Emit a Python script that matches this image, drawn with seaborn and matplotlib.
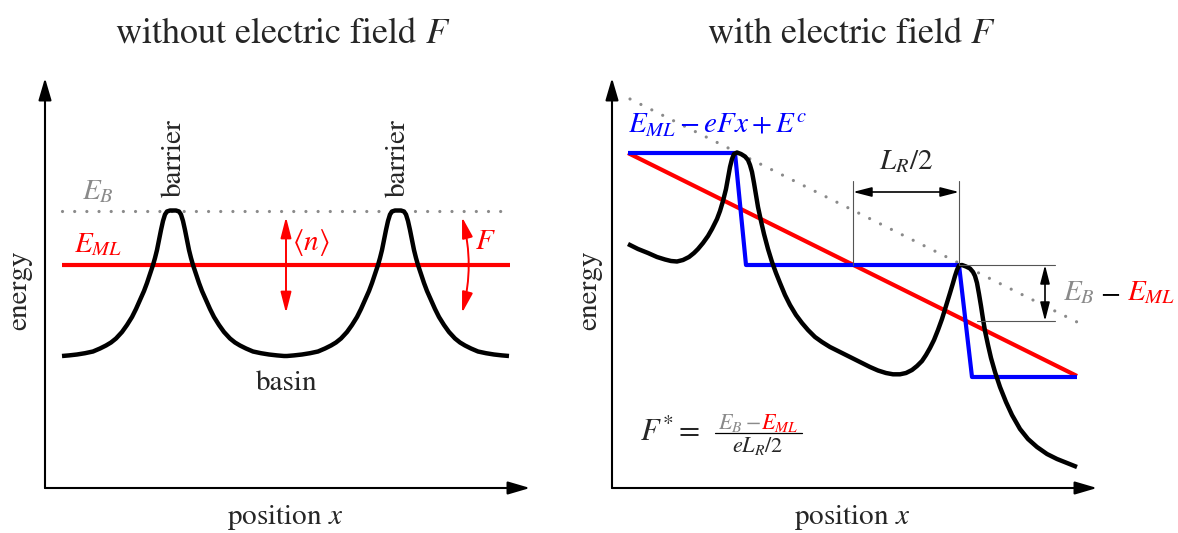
import matplotlib
matplotlib.use("Agg")
import matplotlib.pyplot as plt
import seaborn as sns

# ---------------- data (arbitrary units: position, energy) ----------------
# periodic landscape, no field: two barriers separated by a flat basin
flat_x = [17, 24, 32, 40, 48, 55, 61, 66, 71, 77, 82, 87, 91, 95, 99, 102, 105, 108, 110,
          112, 114, 116, 118, 120, 122, 125,
          131, 134, 136, 138, 140, 142, 144, 146, 148, 151, 154, 157, 161, 165, 169, 174,
          179, 185, 190, 195, 201, 208, 216, 224, 232, 239,
          242, 249, 257, 265, 273, 280, 286, 291, 296, 302, 307, 312, 316, 320, 324, 327,
          330, 333, 335, 337, 339, 341, 343, 345, 347, 350,
          356, 359, 361, 363, 365, 367, 369, 371, 373, 376, 379, 382, 386, 390, 394, 399,
          404, 410, 415, 420, 426, 433, 441, 449, 457, 464]
flat_energy = [132, 132.6, 133.5, 134.8, 136.5, 139.5, 142.5, 145.5, 149.5, 156, 163, 171,
               179, 188, 197, 205, 214, 223, 230, 238, 248, 258, 267, 273.5, 276.5, 277.5,
               277.5, 276.5, 273.5, 267, 258, 248, 238, 230, 223, 214, 205, 197, 188, 179,
               171, 163, 156, 149.5, 145.5, 142.5, 139.5, 136.5, 134.8, 133.5, 132.6, 132,
               132, 132.6, 133.5, 134.8, 136.5, 139.5, 142.5, 145.5, 149.5, 156, 163, 171,
               179, 188, 197, 205, 214, 223, 230, 238, 248, 258, 267, 273.5, 276.5, 277.5,
               277.5, 276.5, 273.5, 267, 258, 248, 238, 230, 223, 214, 205, 197, 188, 179,
               171, 163, 156, 149.5, 145.5, 142.5, 139.5, 136.5, 134.8, 133.5, 132.6, 132]
level_x = [17, 465]
barrier_level = 277      # E_B
ml_level = 223           # E_ML

# tilted landscape under an electric field
tilt_x = [16, 26, 36, 45, 53, 59, 65, 71, 77, 82, 86, 91, 96, 100, 105, 108, 111, 114,
          116, 118, 120, 122, 125, 129, 133, 136, 138, 140, 142, 144, 146, 149, 152, 156,
          160, 164, 168, 173, 178, 184, 190, 196, 203, 210, 218, 228, 238, 248, 258, 266,
          274, 281, 288, 294, 300, 305, 310, 314, 318, 322, 326, 330, 334, 338, 341, 343,
          345, 347, 350, 354, 358, 361, 363, 365, 367, 369, 371, 373, 376, 379, 383, 388,
          394, 400, 408, 416, 425, 435, 445, 455, 465]
tilt_energy = [244, 239, 235, 231, 228.5, 227, 226.5, 228, 231, 235, 239, 245, 252, 259,
               269, 277, 287, 299, 310, 321, 329, 334, 335.5, 334, 331.5, 328, 323, 316,
               305, 293, 281, 267, 254, 239, 226, 215, 205, 193, 183, 173, 165, 158, 151,
               146, 141, 136, 131, 126, 121, 117.5, 115, 113.7, 113.7, 115, 118, 122, 127,
               133, 140, 148, 158, 169, 182, 195, 205, 212, 218, 222.5, 223, 221.5, 219.5,
               216, 212, 205, 194, 182, 169, 157, 143, 130, 116, 101, 86, 73, 59, 49, 41,
               34, 29, 25, 21]
tilt_EB_x = [18, 465]
tilt_EB = [389, 166]
tilt_EML_x = [16, 465]
tilt_EML = [335, 112]
step_x = [16, 123, 134, 347, 360, 465]
step_energy = [335, 335, 223, 223, 111, 111]

# ---------------- style ----------------
sns.set_theme(style="white")
plt.rcParams["font.family"] = ["STIXGeneral", "DejaVu Serif"]
plt.rcParams["mathtext.fontset"] = "stix"

RED = "#ff0000"
BLUE = "#0000ff"
GRAY = "#8a8a8a"
LAB = 21

fig = plt.figure(figsize=(11.78, 5.33), dpi=100)
ax1 = fig.add_axes([45 / 1178, 45 / 533, 485 / 1178, 410 / 533])
ax2 = fig.add_axes([612 / 1178, 45 / 533, 485 / 1178, 410 / 533])

for ax in (ax1, ax2):
    ax.set_xlim(0, 485)
    ax.set_ylim(0, 410)
    ax.axis("off")
    arrow = dict(arrowstyle="-|>,head_length=0.75,head_width=0.22", color="black",
                 lw=1.5, shrinkA=0, shrinkB=0, mutation_scale=18)
    ax.annotate("", xy=(0, 1), xytext=(0, 0), xycoords="axes fraction",
                textcoords="axes fraction", arrowprops=arrow)
    ax.annotate("", xy=(1, 0), xytext=(0, 0), xycoords="axes fraction",
                textcoords="axes fraction", arrowprops=arrow)
    ax.text(0.495, -0.072, "position $x$", transform=ax.transAxes, ha="center",
            va="center", fontsize=LAB)

ax1.text(-0.052, 0.483, "energy", transform=ax1.transAxes, rotation=90,
         ha="center", va="center", fontsize=LAB)
ax2.text(-0.047, 0.483, "energy", transform=ax2.transAxes, rotation=90,
         ha="center", va="center", fontsize=LAB)
ax1.text(0.489, 1.108, "without electric field $F$", transform=ax1.transAxes,
         ha="center", va="center", fontsize=26)
ax2.text(0.495, 1.108, "with electric field $F$", transform=ax2.transAxes,
         ha="center", va="center", fontsize=26)

dotted = dict(color=GRAY, lw=2.3, linestyle=(0, (0.01, 3.8)), dash_capstyle="round")
thick = dict(lw=3.0, solid_capstyle="butt", solid_joinstyle="round")

# ---------------- left panel ----------------
sns.lineplot(x=level_x, y=[barrier_level] * 2, ax=ax1, estimator=None, sort=False, **dotted)
sns.lineplot(x=level_x, y=[ml_level] * 2, ax=ax1, estimator=None, sort=False,
             color=RED, **thick)
sns.lineplot(x=flat_x, y=flat_energy, ax=ax1, estimator=None, sort=False,
             color="black", lw=3.2, solid_capstyle="butt", solid_joinstyle="round")

ax1.text(53, 296, "$E_B$", color=GRAY, ha="center", va="center", fontsize=LAB)
ax1.text(53, 243, "$E_{ML}$", color=RED, ha="center", va="center", fontsize=LAB)
for cx in (129, 353):
    ax1.text(cx, 330, "barrier", rotation=90, ha="center", va="center", fontsize=LAB)
ax1.text(242, 105, "basin", ha="center", va="center", fontsize=LAB)

red_arrow = dict(arrowstyle="<|-|>,head_length=0.7,head_width=0.18", color=RED,
                 lw=1.4, shrinkA=0, shrinkB=0, mutation_scale=18)
ax1.annotate("", xy=(241, 271), xytext=(241, 175), arrowprops=red_arrow)
ax1.text(266, 245, r"$\langle n\rangle$", color=RED, ha="center", va="center",
         fontsize=LAB)
ax1.annotate("", xy=(417, 271), xytext=(417, 175),
             arrowprops=dict(red_arrow, connectionstyle="arc3,rad=0.13"))
ax1.text(440, 246, "$F$", color=RED, ha="center", va="center", fontsize=LAB)

# ---------------- right panel ----------------
sns.lineplot(x=tilt_EB_x, y=tilt_EB, ax=ax2, estimator=None, sort=False, **dotted)
sns.lineplot(x=tilt_EML_x, y=tilt_EML, ax=ax2, estimator=None, sort=False,
             color=RED, **thick)
sns.lineplot(x=step_x, y=step_energy, ax=ax2, estimator=None, sort=False,
             color=BLUE, **thick)
sns.lineplot(x=tilt_x, y=tilt_energy, ax=ax2, estimator=None, sort=False,
             color="black", lw=3.2, solid_capstyle="butt", solid_joinstyle="round")

ax2.text(16, 363, "$E_{ML} - eFx + E^c$", color=BLUE, ha="left", va="center",
         fontsize=LAB)

thin = dict(color="#555555", lw=0.8)
black_arrow = dict(arrowstyle="<|-|>,head_length=0.7,head_width=0.18", color="black",
                   lw=1.2, shrinkA=0, shrinkB=0, mutation_scale=16)
# half period marker
ax2.plot([241, 241], [307, 223], **thin)
ax2.plot([347, 347], [307, 223], **thin)
ax2.annotate("", xy=(347, 296), xytext=(241, 296), arrowprops=black_arrow)
ax2.text(294, 326, "$L_R/2$", ha="center", va="center", fontsize=LAB)
# barrier height above the chemical potential
ax2.plot([347, 443], [223, 223], **thin)
ax2.plot([365, 443], [167, 167], **thin)
ax2.annotate("", xy=(433, 223), xytext=(433, 167), arrowprops=black_arrow)
ax2.text(451, 188, "$E_B$", color=GRAY, ha="left", va="baseline", fontsize=LAB)
ax2.text(498, 188, "$-$", color="black", ha="center", va="baseline", fontsize=LAB)
ax2.text(515, 188, "$E_{ML}$", color=RED, ha="left", va="baseline", fontsize=LAB)

# critical field
ax2.text(28, 47, "$F^{*} = $", ha="left", va="baseline", fontsize=22)
ax2.text(149, 59, "$E_B-$", color=GRAY, ha="right", va="baseline", fontsize=16)
ax2.text(149, 59, "$E_{ML}$", color=RED, ha="left", va="baseline", fontsize=16)
ax2.plot([103, 190], [55, 55], color="black", lw=0.9)
ax2.text(146, 36, "$eL_R/2$", ha="center", va="baseline", fontsize=16)

fig.savefig("out.png", dpi=100)
